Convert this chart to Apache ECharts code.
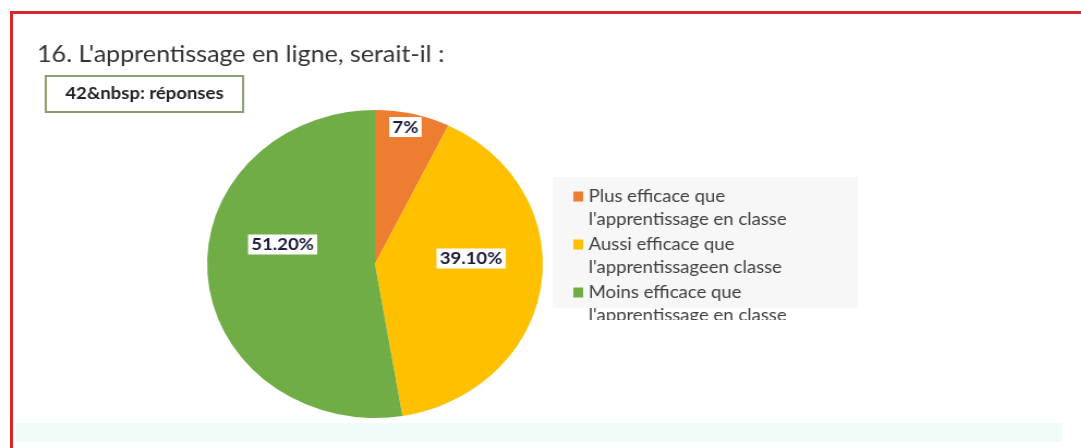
<!DOCTYPE html>
<html>
<head>
<meta charset="utf-8">
<script src="https://cdn.jsdelivr.net/npm/echarts@6/dist/echarts.min.js"></script>
<style>
  html, body { margin: 0; padding: 0; background: #ffffff; }
  #wrap { position: relative; width: 1081px; height: 448px; overflow: hidden; background: #ffffff; }
  #frame { position: absolute; left: 10px; top: 11px; right: -10px; bottom: -10px; border-top: 3px solid #d8262c; border-left: 3px solid #d8262c; }
  #band { position: absolute; left: 16px; top: 423px; width: 1046px; height: 19px; background: #f0fbfc; }
  /* the reference picture is stretched horizontally by about 1.09 */
  #chart { position: absolute; left: 0; top: 0; width: 992px; height: 448px; transform: scaleX(1.09); transform-origin: 0 0; }
</style>
</head>
<body>
<div id="wrap">
  <div id="frame"></div>
  <div id="band"></div>
  <div id="chart"></div>
</div>
<script>
// ---- data ----
const titleText = "16. L'apprentissage en ligne, serait-il :";
const responsesText = "42&nbsp: réponses";
const categories = [
  "Plus efficace que\nl'apprentissage en classe",
  "Aussi efficace que\nl'apprentissageen classe",
  "Moins efficace que\nl'apprentissage en classe"
];
const values = [7, 39.1, 51.2];
const labelTexts = ["7%", "39.10%", "51.20%"];
const colors = ["#ED7D31", "#FFC000", "#70AD47"];

// ---- chart ----
const FONT = "Lato, 'Liberation Sans', sans-serif";
const labelShift = [[10, -59], [9, -17], [-5, -26]];

const chart = echarts.init(document.getElementById('chart'), null, { renderer: 'canvas' });
chart.setOption({
  backgroundColor: 'transparent',
  animation: false,
  color: colors,
  title: [
    {
      text: titleText,
      left: 34,
      top: 43,
      padding: 0,
      textStyle: { fontFamily: FONT, fontSize: 23, fontWeight: 'normal', color: '#333333' }
    },
    {
      text: responsesText,
      left: 42,
      top: 76,
      padding: [9, 18, 9, 18],
      borderColor: '#8e9e72',
      borderWidth: 2,
      textStyle: { fontFamily: FONT, fontSize: 17, lineHeight: 18, fontWeight: 'bold', color: '#222222' }
    }
  ],
  graphic: [
    { type: 'rect', z: 0, shape: { x: 507, y: 177, width: 280, height: 131 }, style: { fill: '#f7f7f7' } },
    { type: 'rect', z: 100, shape: { x: 530, y: 320, width: 230, height: 10 }, style: { fill: '#ffffff' } }
  ],
  legend: {
    orient: 'vertical',
    left: 526,
    top: 165,
    padding: 0,
    itemGap: -15,
    itemWidth: 9,
    itemHeight: 10,
    icon: 'rect',
    data: categories,
    formatter: function (name) {
      const parts = name.split('\n');
      return '{g| }\n{t|' + parts[0] + '}\n{t|' + parts[1] + '}';
    },
    textStyle: {
      fontFamily: FONT, fontSize: 17, color: '#404040',
      rich: {
        g: { fontSize: 17, lineHeight: 23 },
        t: { fontFamily: FONT, fontSize: 17, lineHeight: 23, color: '#404040' }
      }
    }
  },
  series: [{
    type: 'pie',
    center: [344, 264],
    radius: 154,
    startAngle: 90,
    clockwise: true,
    avoidLabelOverlap: false,
    itemStyle: { borderWidth: 0 },
    emphasis: { disabled: true },
    label: {
      show: true,
      position: 'inside',
      formatter: function (p) { return labelTexts[p.dataIndex]; },
      fontFamily: FONT,
      fontSize: 17,
      fontWeight: 'bold',
      color: '#1c1d3a',
      backgroundColor: '#ffffff',
      padding: [2, 3, 1, 3]
    },
    labelLayout: function (p) {
      const s = labelShift[p.dataIndex];
      return { dx: s[0], dy: s[1] };
    },
    data: categories.map(function (c, i) { return { name: c, value: values[i] }; })
  }]
});
</script>
</body>
</html>
